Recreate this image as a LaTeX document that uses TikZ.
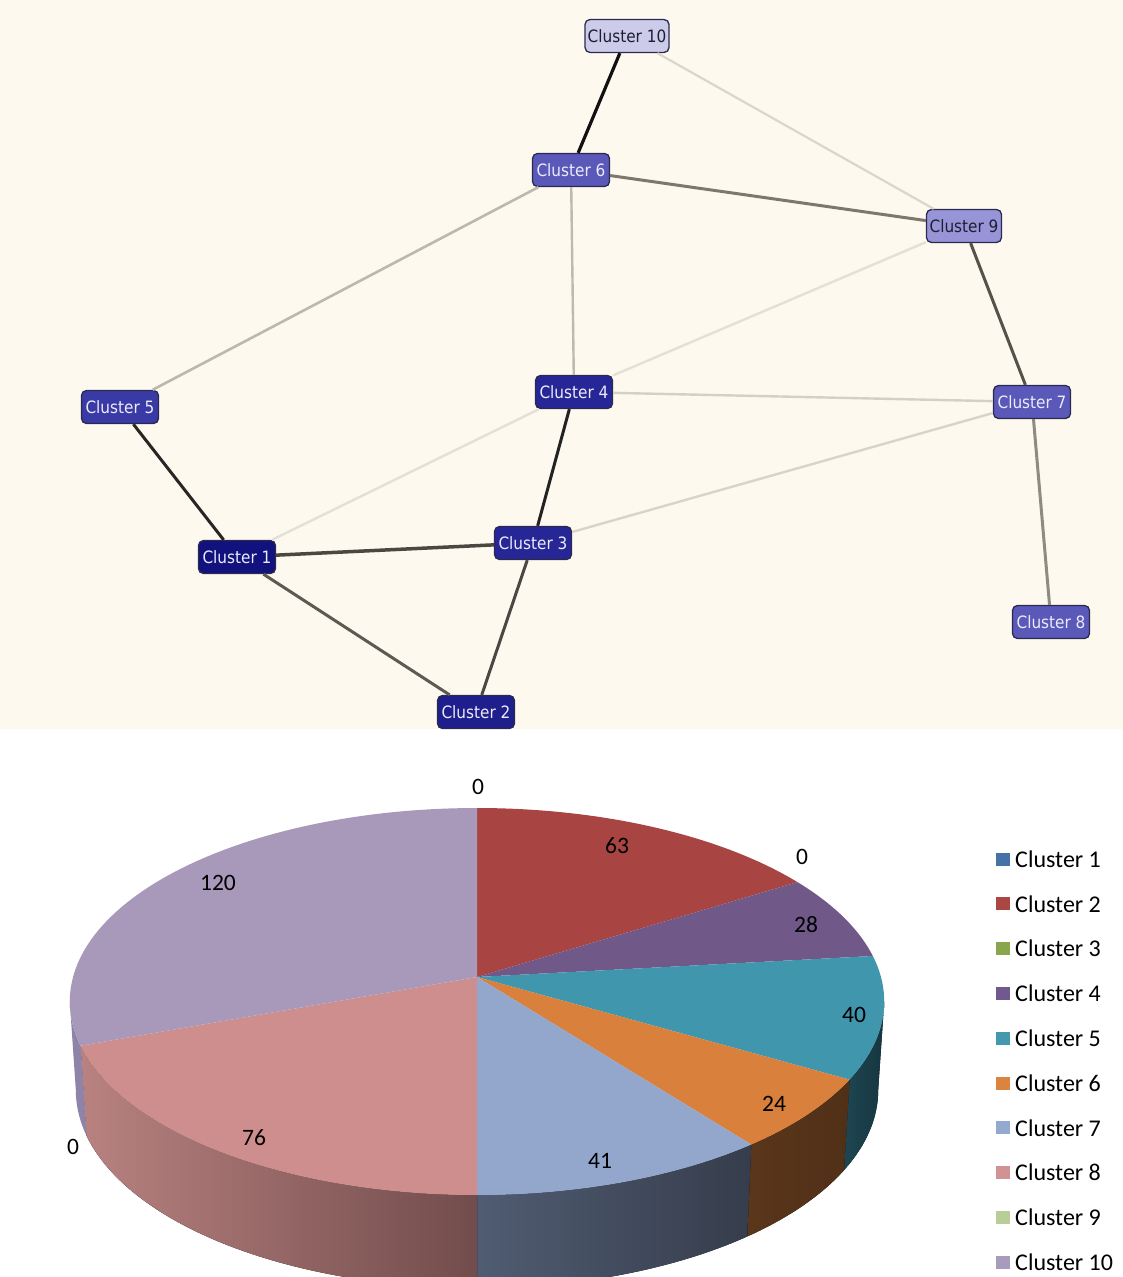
\documentclass[tikz,border=0pt]{standalone}
\usepackage{fontspec}
\setmainfont{Carlito}
\newfontfamily\netfont{DejaVu Sans Condensed}
\definecolor{panel}{HTML}{FEF9EE}
\definecolor{nb}{HTML}{2A2A50}
\definecolor{fA}{HTML}{12127E}
\definecolor{fB}{HTML}{1E1E8C}
\definecolor{fC}{HTML}{262696}
\definecolor{fD}{HTML}{3A3AA6}
\definecolor{fE}{HTML}{5A58B8}
\definecolor{fF}{HTML}{9794D8}
\definecolor{fG}{HTML}{CDCBEA}
\definecolor{lg1}{HTML}{4572A7}
\definecolor{lg2}{HTML}{AA4643}
\definecolor{lg3}{HTML}{89A54E}
\definecolor{lg4}{HTML}{71588F}
\definecolor{lg5}{HTML}{4198AF}
\definecolor{lg6}{HTML}{DB843D}
\definecolor{lg7}{HTML}{93A9CF}
\definecolor{lg8}{HTML}{D19392}
\definecolor{lg9}{HTML}{B9CD96}
\definecolor{lg10}{HTML}{A99BBD}
\definecolor{t2}{HTML}{A84442}
\definecolor{t4}{HTML}{705889}
\definecolor{t5}{HTML}{4096AD}
\definecolor{t6}{HTML}{D8803C}
\definecolor{t7}{HTML}{93A7CC}
\definecolor{t8}{HTML}{CE8E8D}
\definecolor{t10}{HTML}{A898BA}
\begin{document}
\begin{tikzpicture}[x=1pt,y=-1pt,
  declare function={
    px(\t)=477+404*sin(\t)/(1+0.1266*cos(\t));
    py(\t)=977-190.4*cos(\t)/(1+0.1266*cos(\t));
    bx(\t)=477+398*sin(\t)/(1+0.1266*cos(\t));
    by(\t)=977-190.4*cos(\t)/(1+0.1266*cos(\t))+88-5*cos(\t);
  },
  cl/.style={draw=nb, line width=1.3pt, rounded corners=5pt, minimum width=77pt,
    minimum height=33pt, inner sep=0pt, text={rgb,255:red,235;green,235;blue,250}, font=\netfont\fontsize{17}{20}\selectfont},
  cldark/.style={cl, text={rgb,255:red,30;green,30;blue,50}},
  lab/.style={font=\fontsize{23.5}{26}\selectfont, text=black, inner sep=0pt},
  lgbox/.style={minimum width=14pt, minimum height=13pt, inner sep=0pt},
  lgtext/.style={font=\fontsize{24}{27}\selectfont, anchor=west, inner sep=0pt},
  ed/.style={line width=#1},
]
\useasboundingbox (0,0) rectangle (1123,1277);
\fill[white] (0,0) rectangle (1123,1277);
% ---------- network panel ----------
\begin{scope}
\clip (0,0) rectangle (1123,729);
\fill[panel] (0,0) rectangle (1123,729);
\node[cldark, fill=fG, minimum width=84pt] (c10) at (627,36) {Cluster 10};
\node[cl, fill=fE] (c6) at (571,170) {Cluster 6};
\node[cldark, fill=fF, minimum width=75pt] (c9) at (964,226) {Cluster 9};
\node[cl, fill=fD] (c5) at (120,407) {Cluster 5};
\node[cl, fill=fC] (c4) at (574,392) {Cluster 4};
\node[cl, fill=fE] (c7) at (1032,402) {Cluster 7};
\node[cl, fill=fA] (c1) at (237,557) {Cluster 1};
\node[cl, fill=fC] (c3) at (533,543) {Cluster 3};
\node[cl, fill=fE] (c8) at (1051,622) {Cluster 8};
\node[cl, fill=fB] (c2) at (476,712) {Cluster 2};
\draw[ed=2.2pt, color={rgb,255:red,218;green,214;blue,203}] (c10) -- (c9);
\draw[ed=2.6pt, color={rgb,255:red,188;green,185;blue,172}] (c6) -- (c5);
\draw[ed=2.4pt, color={rgb,255:red,189;green,186;blue,174}] (c6) -- (c4);
\draw[ed=2.4pt, color={rgb,255:red,227;green,224;blue,212}] (c9) -- (c4);
\draw[ed=2.4pt, color={rgb,255:red,227;green,224;blue,214}] (c4) -- (c1);
\draw[ed=2.4pt, color={rgb,255:red,211;green,208;blue,196}] (c4) -- (c7);
\draw[ed=2.4pt, color={rgb,255:red,216;green,213;blue,200}] (c3) -- (c7);
\draw[ed=3pt, color={rgb,255:red,124;green,120;blue,108}] (c6) -- (c9);
\draw[ed=3pt, color={rgb,255:red,142;green,139;blue,128}] (c7) -- (c8);
\draw[ed=3pt, color={rgb,255:red,84;green,82;blue,74}] (c9) -- (c7);
\draw[ed=3pt, color={rgb,255:red,92;green,90;blue,82}] (c1) -- (c2);
\draw[ed=3pt, color={rgb,255:red,74;green,72;blue,66}] (c3) -- (c2);
\draw[ed=3.5pt, color={rgb,255:red,74;green,72;blue,64}] (c1) -- (c3);
\draw[ed=3pt, color={rgb,255:red,38;green,38;blue,36}] (c5) -- (c1);
\draw[ed=3pt, color={rgb,255:red,35;green,35;blue,35}] (c4) -- (c3);
\draw[ed=3.2pt, color={rgb,255:red,17;green,17;blue,17}] (c10) -- (c6);
\end{scope}
% ---------- pie chart ----------
\begin{scope}
\clip (0,730) rectangle (1123,1277);
% sides
\fill[left color={rgb,255:red,30;green,70;blue,82}, right color={rgb,255:red,22;green,54;blue,64}]
  plot[domain=97.27:120.31,samples=20] ({px(\x)},{py(\x)}) -- plot[domain=120.31:97.27,samples=20] ({bx(\x)},{by(\x)}) -- cycle;
\fill[left color={rgb,255:red,90;green,54;blue,26}, right color={rgb,255:red,80;green,48;blue,24}]
  plot[domain=120.31:142.35,samples=20] ({px(\x)},{py(\x)}) -- plot[domain=142.35:120.31,samples=20] ({bx(\x)},{by(\x)}) -- cycle;
\fill[left color={rgb,255:red,80;green,92;blue,114}, right color={rgb,255:red,54;green,61;blue,76}]
  plot[domain=142.35:180,samples=30] ({px(\x)},{py(\x)}) -- plot[domain=180:142.35,samples=30] ({bx(\x)},{by(\x)}) -- cycle;
\fill[left color={rgb,255:red,184;green,130;blue,128}, right color={rgb,255:red,114;green,76;blue,76}]
  plot[domain=180:249.8,samples=50] ({px(\x)},{py(\x)}) -- plot[domain=249.8:180,samples=50] ({bx(\x)},{by(\x)}) -- cycle;
\fill[color={rgb,255:red,142;green,131;blue,168}]
  plot[domain=249.8:262.73,samples=15] ({px(\x)},{py(\x)}) -- plot[domain=262.73:249.8,samples=15] ({bx(\x)},{by(\x)}) -- cycle;
% top
\coordinate (ctr) at (477,977);
\fill[t2] (ctr) -- plot[domain=0:57.86,samples=40] ({px(\x)},{py(\x)}) -- cycle;
\fill[t4] (ctr) -- plot[domain=57.86:83.57,samples=20] ({px(\x)},{py(\x)}) -- cycle;
\fill[t5] (ctr) -- plot[domain=83.57:120.31,samples=25] ({px(\x)},{py(\x)}) -- cycle;
\fill[t6] (ctr) -- plot[domain=120.31:142.35,samples=20] ({px(\x)},{py(\x)}) -- cycle;
\fill[t7] (ctr) -- plot[domain=142.35:180,samples=25] ({px(\x)},{py(\x)}) -- cycle;
\fill[t8] (ctr) -- plot[domain=180:249.8,samples=45] ({px(\x)},{py(\x)}) -- cycle;
\fill[t10] (ctr) -- plot[domain=249.8:360,samples=60] ({px(\x)},{py(\x)}) -- cycle;
\end{scope}
% labels
\node[lab] (v1) at (478,787) {0};
\node[lab] (v2) at (617,846) {63};
\node[lab] (v3) at (802,857) {0};
\node[lab] (v4) at (806,925) {28};
\node[lab] (v5) at (854,1015) {40};
\node[lab] (v6) at (774,1104) {24};
\node[lab] (v7) at (600,1161) {41};
\node[lab] (v8) at (254,1138) {76};
\node[lab] (v9) at (73,1147) {0};
\node[lab] (v10) at (218,883) {120};
% legend
\foreach \i in {1,...,10}{
  \node[lgbox, fill=lg\i] (lb\i) at (1003,{859+44.8*(\i-1)}) {};
  \node[lgtext] (lt\i) at (1015,{859+44.8*(\i-1)}) {Cluster \i};
}
\end{tikzpicture}
\end{document}
